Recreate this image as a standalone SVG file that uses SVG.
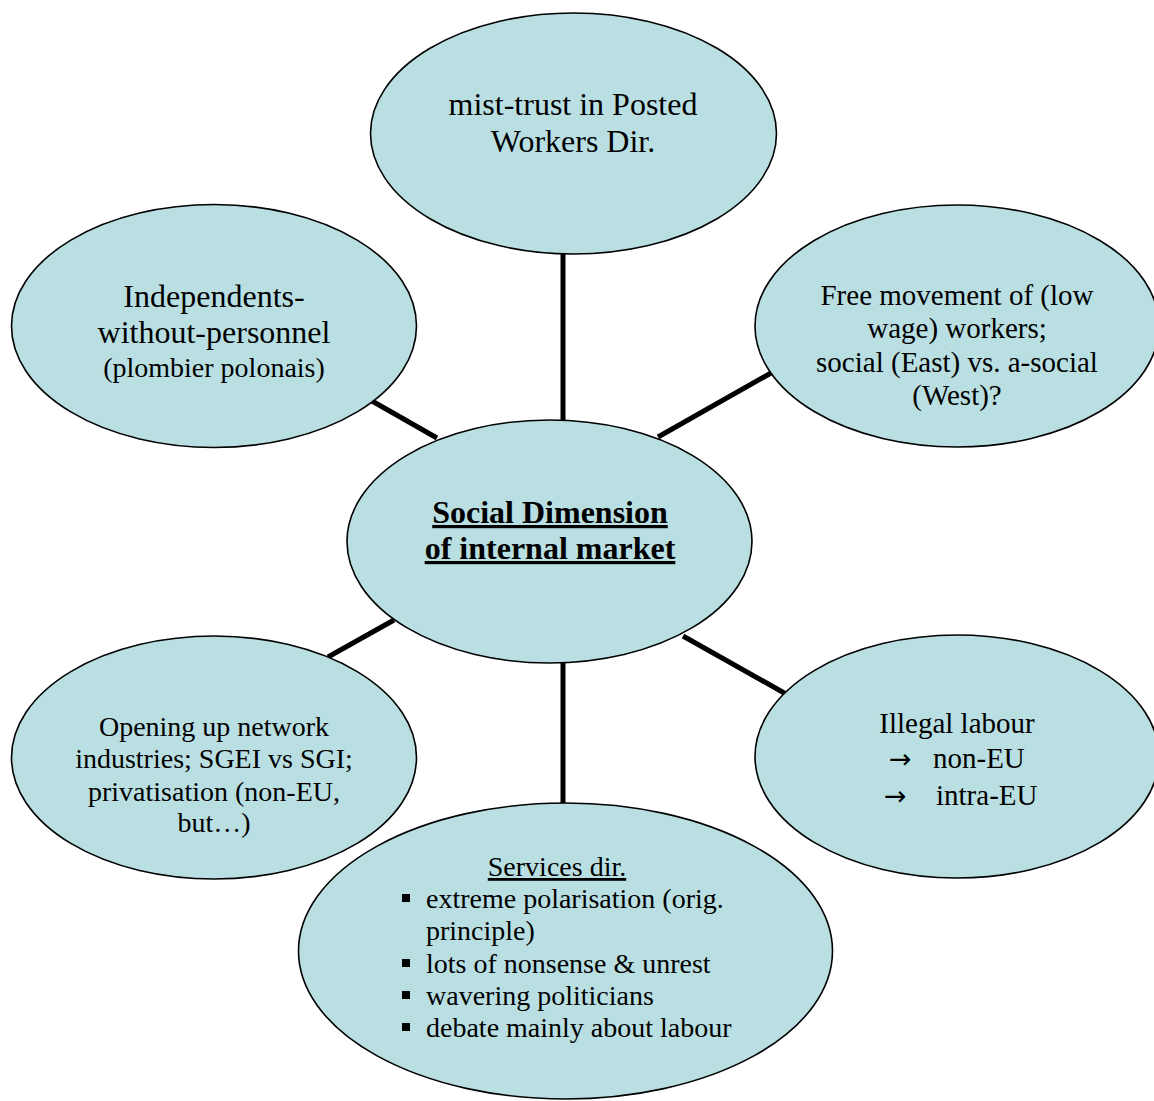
<svg xmlns="http://www.w3.org/2000/svg" width="1154" height="1101" viewBox="0 0 1154 1101">
<style>
.bub{fill:#B9DFE3;stroke:#000;stroke-width:1.6}
.con{stroke:#000;stroke-width:5;fill:none}
text{font-family:"Liberation Serif","Times New Roman",serif;fill:#000}
.c{text-anchor:middle}
.f32{font-size:32px}
.f29{font-size:29px}
.f28{font-size:28px}
.u{text-decoration:underline}
.b{font-weight:bold}
.bul{fill:#000}
.arr{font-family:"DejaVu Sans",sans-serif;font-size:27px}
</style>
<rect width="1154" height="1101" fill="#fff"/>
<g id="connectors">
<line class="con" x1="563" y1="252" x2="563" y2="423"/>
<line class="con" x1="563" y1="661" x2="563" y2="806"/>
<line class="con" x1="372" y1="401" x2="437" y2="438"/>
<line class="con" x1="658" y1="437" x2="771" y2="373"/>
<line class="con" x1="328" y1="657" x2="394" y2="620"/>
<line class="con" x1="683" y1="636" x2="786" y2="694"/>
</g>
<g id="node-top">
<ellipse class="bub" cx="573.5" cy="133.5" rx="203" ry="120.5"/>
<text class="c f32" x="573" y="115">mist-trust in Posted</text>
<text class="c f32" x="573" y="152">Workers Dir.</text>
</g>
<g id="node-independents">
<ellipse class="bub" cx="214" cy="326" rx="202.5" ry="121.5"/>
<text class="c f32" x="214" y="307">Independents-</text>
<text class="c f32" x="214" y="343">without-personnel</text>
<text class="c f28" x="214" y="377">(plombier polonais)</text>
</g>
<g id="node-free-movement">
<ellipse class="bub" cx="957" cy="326" rx="202" ry="121"/>
<text class="c f29" x="957" y="305">Free movement of (low</text>
<text class="c f29" x="957" y="338">wage) workers;</text>
<text class="c f29" x="957" y="372">social (East) vs. a-social</text>
<text class="c f29" x="957" y="405">(West)?</text>
</g>
<g id="node-center">
<ellipse class="bub" cx="549.5" cy="541.5" rx="202.5" ry="121.5"/>
<text class="c f32 b u" x="550" y="523">Social Dimension</text>
<text class="c f32 b u" x="550" y="559">of internal market</text>
</g>
<g id="node-network">
<ellipse class="bub" cx="214" cy="757.5" rx="202.5" ry="121.5"/>
<text class="c f28" x="214" y="736">Opening up network</text>
<text class="c f28" x="214" y="768">industries; SGEI vs SGI;</text>
<text class="c f28" x="214" y="801">privatisation (non-EU,</text>
<text class="c f28" x="214" y="832">but…)</text>
</g>
<g id="node-illegal">
<ellipse class="bub" cx="957" cy="756.5" rx="202" ry="121.5"/>
<text class="c f29" x="957" y="733">Illegal labour</text>
<text class="arr" x="889" y="768">→</text>
<text class="f29" x="933" y="768">non-EU</text>
<text class="arr" x="884" y="805">→</text>
<text class="f29" x="936" y="805">intra-EU</text>
</g>
<g id="node-services">
<ellipse class="bub" cx="565.5" cy="951" rx="267" ry="148"/>
<text class="c f28 u" x="557" y="876">Services dir.</text>
<rect class="bul" x="402" y="894" width="8" height="8"/>
<text class="f28" x="426" y="908">extreme polarisation (orig.</text>
<text class="f28" x="426" y="940">principle)</text>
<rect class="bul" x="402" y="959" width="8" height="8"/>
<text class="f28" x="426" y="973">lots of nonsense &amp; unrest</text>
<rect class="bul" x="402" y="991" width="8" height="8"/>
<text class="f28" x="426" y="1005">wavering politicians</text>
<rect class="bul" x="402" y="1023" width="8" height="8"/>
<text class="f28" x="426" y="1037">debate mainly about labour</text>
</g>
</svg>
